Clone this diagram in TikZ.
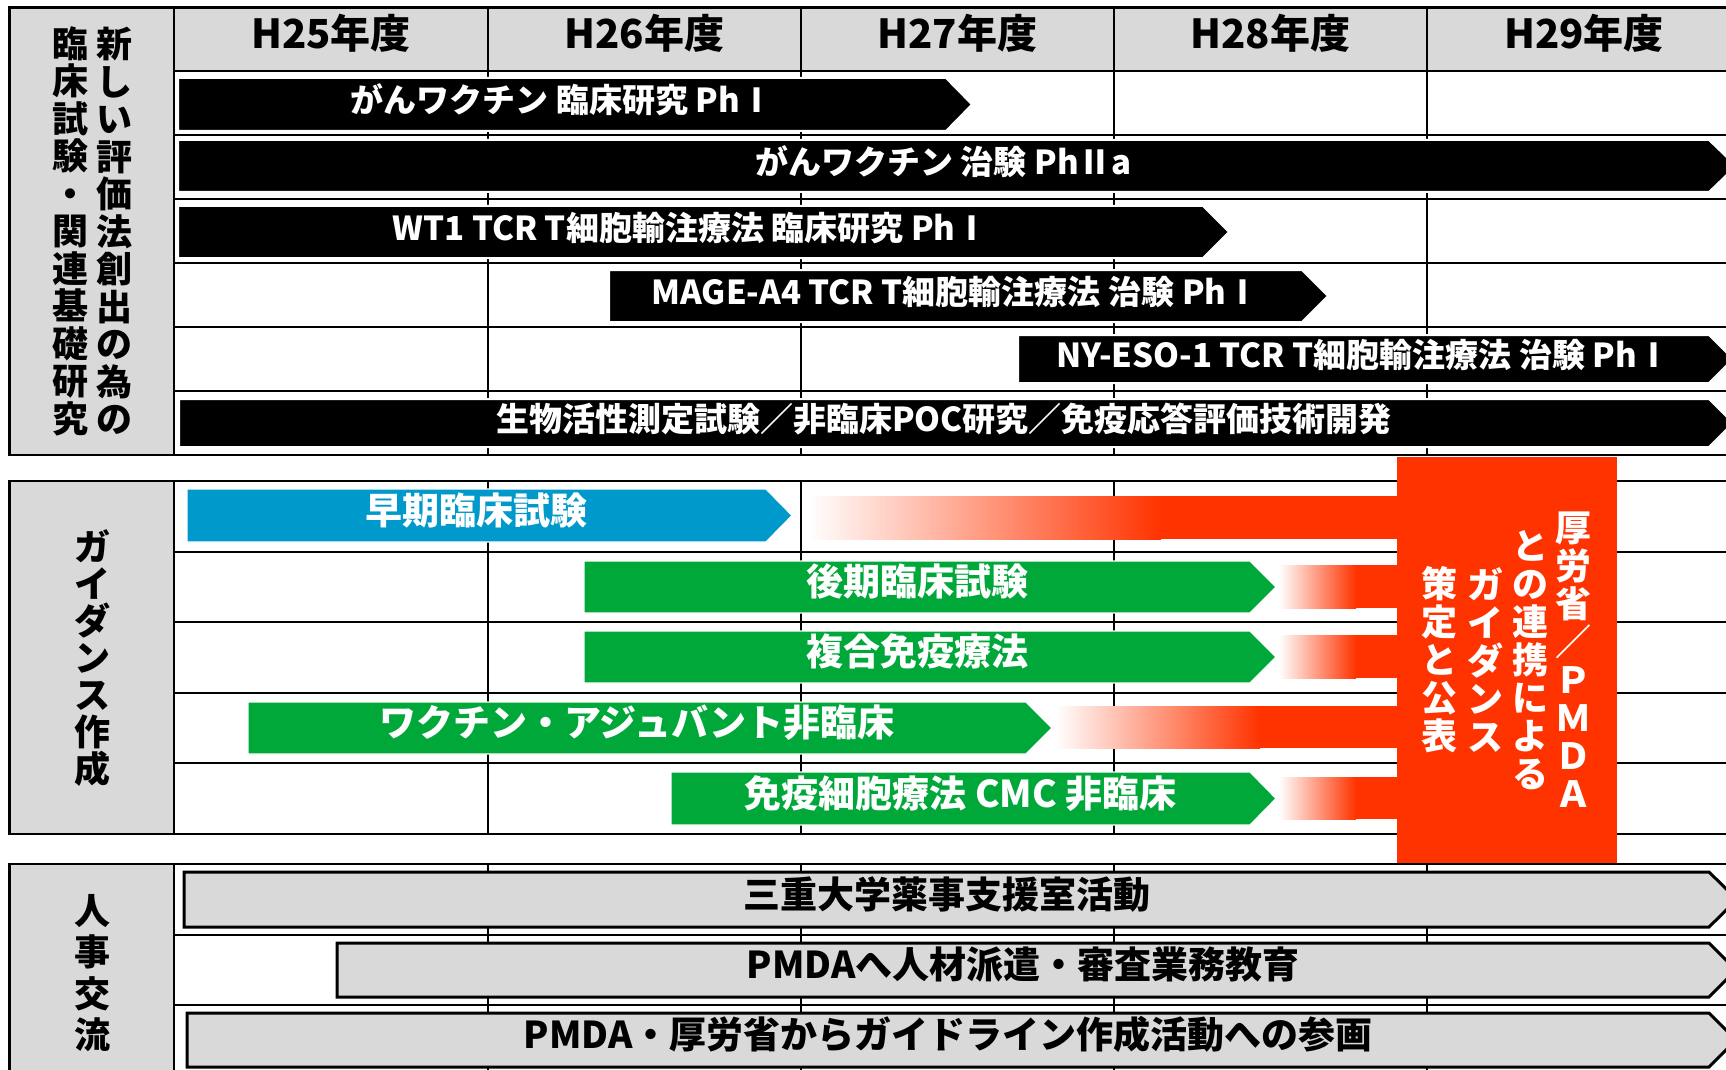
\documentclass[tikz,border=0pt]{standalone}
\usepackage{tikz}
\usepackage{xcolor}
\usepackage{fontspec}
\setmainfont{Noto Sans CJK JP}
\definecolor{cellgray}{RGB}{217,217,217}
\definecolor{mhlwred}{RGB}{255,51,0}
\definecolor{earlyblue}{RGB}{0,153,204}
\definecolor{guidegreen}{RGB}{0,168,58}
\newcommand{\BarEnd}{1709}
\newcommand{\BarTip}{1736}
\newcommand{\BoxLeft}{1397}
\newcommand{\RightEdge}{1745}

\begin{document}
\begin{tikzpicture}[x=0.5pt,y=-0.5pt,
		gridline/.style={line width=1pt},
		frame/.style={line width=1.3pt},
		blackbar/.style={fill=black,draw=white,line width=1pt},
		blackbartext/.style={text=white,yshift=2.2pt,font=\bfseries\fontsize{16.5}{18}\selectfont},
		bluebar/.style={fill=earlyblue,draw=white,line width=0.6pt},
		greenbar/.style={fill=guidegreen,draw=white,line width=0.6pt},
		colorbartext/.style={text=white,yshift=2.6pt,font=\bfseries\fontsize{18.5}{20}\selectfont},
		graybar/.style={fill=cellgray,draw=black,line width=1.5pt},
		graybartext/.style={text=black,yshift=2.6pt,font=\bfseries\fontsize{18.5}{20}\selectfont},
		yearhead/.style={yshift=2.6pt,font=\bfseries\fontsize{20}{22}\selectfont},
		sidelabel/.style={align=center,inner sep=0pt,font=\bfseries\fontsize{18}{18.75}\selectfont},
		redlabel/.style={align=center,inner sep=0pt,text=white,font=\bfseries\fontsize{18}{19}\selectfont},
		fade/.style={left color=white,right color=mhlwred}]
		\useasboundingbox (0,0) rectangle (1726,1070);
		\clip (0,0) rectangle (1726,1070);

		% top block: clinical / basic research
		\fill[cellgray] (9.5,7.5) rectangle (174,455);% Side Column
		\fill[cellgray] (174,7.5) rectangle (\RightEdge,71);% Year Header
		\draw[gridline] (174,71) -- (\RightEdge,71) (174,135) -- (\RightEdge,135) (174,199) -- (\RightEdge,199)
			(174,263) -- (\RightEdge,263) (174,327) -- (\RightEdge,327) (174,391) -- (\RightEdge,391);
		\draw[gridline] (174,7.5) -- (174,455) (488,7.5) -- (488,455) (801,7.5) -- (801,455)
			(1114,7.5) -- (1114,455) (1427,7.5) -- (1427,455);
		\draw[frame] (\RightEdge,7.5) -- (9.5,7.5) -- (9.5,455) -- (\RightEdge,455);

		\node[yearhead] (h25) at (331,39) {H25年度};
		\node[yearhead] (h26) at (644.5,39) {H26年度};
		\node[yearhead] (h27) at (957.5,39) {H27年度};
		\node[yearhead] (h28) at (1270.5,39) {H28年度};
		\node[yearhead] (h29) at (1584,39) {H29年度};

		\node[sidelabel] (newmethod) at (114,231) {新\\し\\い\\評\\価\\法\\創\\出\\の\\為\\の};
		\node[sidelabel] (basicres) at (70,231) {臨\\床\\試\\験\\・\\関\\連\\基\\礎\\研\\究};

		\draw[blackbar] (178,78) -- (946,78) -- (972,104.5) -- (946,131) -- (178,131) -- cycle;% Vaccine Ph I
		\node[blackbartext] (vaccineone) at (562,104.5) {がんワクチン 臨床研究 PhⅠ};
		\draw[blackbar] (178,140) -- (\BarEnd,140) -- (\BarTip,166) -- (\BarEnd,192) -- (178,192) -- cycle;% Vaccine Ph IIa
		\node[blackbartext] (vaccinetwo) at (943.5,166) {がんワクチン 治験 PhⅡa};
		\draw[blackbar] (178,206) -- (1203,206) -- (1229,232) -- (1203,258) -- (178,258) -- cycle;% WT1
		\node[blackbartext] (wtone) at (690.5,232) {WT1 TCR T細胞輸注療法 臨床研究 PhⅠ};
		\draw[blackbar] (609,270) -- (1302,270) -- (1328,296) -- (1302,322) -- (609,322) -- cycle;% MAGE-A4
		\node[blackbartext] (magea) at (955.5,296) {MAGE-A4 TCR T細胞輸注療法 治験 PhⅠ};
		\draw[blackbar] (1018,335) -- (\BarEnd,335) -- (1733,359) -- (\BarEnd,383) -- (1018,383) -- cycle;% NY-ESO-1
		\node[blackbartext] (nyeso) at (1363.5,359) {NY-ESO-1 TCR T細胞輸注療法 治験 PhⅠ};
		\draw[blackbar] (179,399) -- (\BarEnd,399) -- (1733,423) -- (\BarEnd,447) -- (179,447) -- cycle;% Assays
		\node[blackbartext] (assays) at (944,423) {生物活性測定試験／非臨床POC研究／免疫応答評価技術開発};

		% middle block: guidance
		\fill[cellgray] (9.5,481) rectangle (174,834);% Side Column
		\draw[gridline] (174,552) -- (\RightEdge,552) (174,622) -- (\RightEdge,622)
			(174,693) -- (\RightEdge,693) (174,763) -- (\RightEdge,763);
		\draw[gridline] (174,481) -- (174,834) (488,481) -- (488,834) (801,481) -- (801,834)
			(1114,481) -- (1114,834) (1427,481) -- (1427,834);
		\draw[frame] (\RightEdge,481) -- (9.5,481) -- (9.5,834) -- (\RightEdge,834);

		\node[sidelabel,font=\bfseries\fontsize{18}{18.5}\selectfont] (guidance) at (92.5,658) {ガ\\イ\\ダ\\ン\\ス\\作\\成};

		\draw[bluebar] (187,489) -- (766,489) -- (792,515.5) -- (766,542) -- (187,542) -- cycle;% Early Trials
		\node[colorbartext] (early) at (476.5,515.5) {早期臨床試験};
		\shade[fade] (808,496) rectangle (1161,539);
		\fill[mhlwred] (1161,496) rectangle (\BoxLeft,539);

		\draw[greenbar] (584,561) -- (1250,561) -- (1276,587) -- (1250,613) -- (584,613) -- cycle;% Late Trials
		\node[colorbartext] (late) at (917,587) {後期臨床試験};
		\shade[fade] (1279,565) rectangle (1356,608);
		\fill[mhlwred] (1356,565) rectangle (\BoxLeft,608);

		\draw[greenbar] (584,631) -- (1250,631) -- (1276,657) -- (1250,683) -- (584,683) -- cycle;% Combination
		\node[colorbartext] (combo) at (917,657) {複合免疫療法};
		\shade[fade] (1279,635) rectangle (1356,678);
		\fill[mhlwred] (1356,635) rectangle (\BoxLeft,678);

		\draw[greenbar] (248,702) -- (1026,702) -- (1052,728) -- (1026,754) -- (248,754) -- cycle;% Adjuvant
		\node[colorbartext] (adjuvant) at (637,728) {ワクチン・アジュバント非臨床};
		\shade[fade] (1055,706) rectangle (1260,748);
		\fill[mhlwred] (1260,706) rectangle (\BoxLeft,748);

		\draw[greenbar] (671,772) -- (1250,772) -- (1276,798.5) -- (1250,825) -- (671,825) -- cycle;% Cell CMC
		\node[colorbartext] (cellcmc) at (960.5,798.5) {免疫細胞療法 CMC 非臨床};
		\shade[fade] (1279,777) rectangle (1356,819);
		\fill[mhlwred] (1356,777) rectangle (\BoxLeft,819);

		\fill[mhlwred] (\BoxLeft,457) rectangle (1617,863);% MHLW / PMDA Box
		\node[redlabel] (mhlw) at (1573,660) {厚\\労\\省\\／\\Ｐ\\Ｍ\\Ｄ\\Ａ};
		\node[redlabel] (linked) at (1530,660) {と\\の\\連\\携\\に\\よ\\る};
		\node[redlabel] (guide) at (1485,660) {ガ\\イ\\ダ\\ン\\ス};
		\node[redlabel] (publish) at (1439,660) {策\\定\\と\\公\\表};

		% bottom block: personnel exchange
		\fill[cellgray] (9.5,864) rectangle (174,1080);% Side Column
		\draw[gridline] (174,935) -- (\RightEdge,935) (174,1005) -- (\RightEdge,1005);
		\draw[gridline] (174,864) -- (174,1080) (488,864) -- (488,1080) (801,864) -- (801,1080)
			(1114,864) -- (1114,1080) (1427,864) -- (1427,1080);
		\draw[frame] (\RightEdge,864) -- (9.5,864) -- (9.5,1080);

		\node[sidelabel,font=\bfseries\fontsize{18}{20.75}\selectfont] (exchange) at (92.5,973) {人\\事\\交\\流};

		\draw[graybar] (184,872) -- (\BarEnd,872) -- (1737,899.5) -- (\BarEnd,927) -- (184,927) -- cycle;% Mie Univ.
		\node[graybartext] (mieuniv) at (946.5,899.5) {三重大学薬事支援室活動};
		\draw[graybar] (337,943) -- (\BarEnd,943) -- (1736,970) -- (\BarEnd,997) -- (337,997) -- cycle;% Secondment
		\node[graybartext] (secondment) at (1023,970) {PMDAへ人材派遣・審査業務教育};
		\draw[graybar] (187,1013) -- (\BarEnd,1013) -- (1736,1040) -- (\BarEnd,1067) -- (187,1067) -- cycle;% Guideline Work
		\node[graybartext] (guideline) at (948,1040) {PMDA・厚労省からガイドライン作成活動への参画};
	\end{tikzpicture}
\end{document}
